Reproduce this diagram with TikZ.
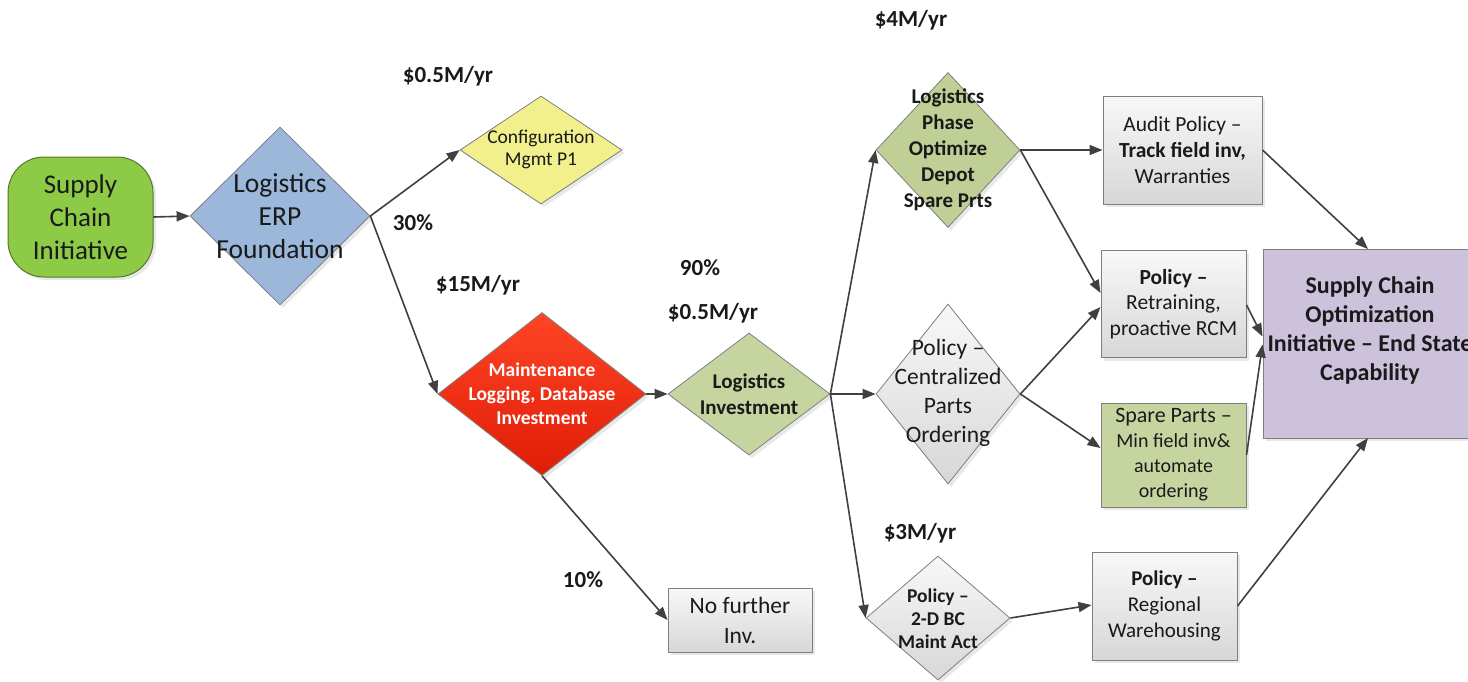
\documentclass[tikz,border=0pt]{standalone}
\usepackage{fontspec}
\setmainfont{Carlito}
\usetikzlibrary{arrows.meta,shadows,shapes.geometric}

\definecolor{linegray}{HTML}{404040}
\definecolor{edgegray}{HTML}{7F7F7F}
\definecolor{textc}{HTML}{1A1A1A}
\definecolor{sciGreen}{HTML}{8DCB47}
\definecolor{sciEdge}{HTML}{56772C}
\definecolor{erpBlue}{HTML}{9BB7DA}
\definecolor{cfgYellow}{HTML}{F1F08C}
\definecolor{redTop}{HTML}{FF4526}
\definecolor{redBot}{HTML}{E01C06}
\definecolor{olive}{HTML}{C6D5A0}
\definecolor{oliveDark}{HTML}{BFCF96}
\definecolor{grayTop}{HTML}{F8F8F8}
\definecolor{grayBot}{HTML}{D7D7D7}
\definecolor{endPurple}{HTML}{CCC2DC}

\newcommand\setfs[2]{\fontsize{#1}{#2}\selectfont}

\tikzset{
  x=1pt, y=-1pt,
  flowline/.style={draw=linegray, line width=1.6pt,
    -{Triangle[length=13pt,width=10pt]}},
  softshadow/.style={drop shadow={opacity=0.18, shadow xshift=3pt, shadow yshift=-3pt}},
  dia/.style={diamond, draw=edgegray, line width=0.8pt, inner sep=0pt,
    softshadow},
  box/.style={rectangle, draw=edgegray, line width=1pt, inner sep=0pt,
    align=center, text=textc, softshadow},
  graybox/.style={box, top color=grayTop, bottom color=grayBot},
  grayfill/.style={top color=grayTop, bottom color=grayBot},
  dtext/.style={align=center, text=textc, inner sep=0pt},
  lbl/.style={font=\bfseries\setfs{23}{28}, text=textc, inner sep=0pt},
}

\begin{document}
\begin{tikzpicture}
\clip (0,0) rectangle (1468,681);
\fill[white] (0,0) rectangle (1468,681);

% ---- start
\node[box, fill=sciGreen, draw=sciEdge, rounded corners=36pt,
      minimum width=145pt, minimum height=120pt,
      font=\setfs{27}{33}] (sci) at (80.5,217) {Supply\\Chain\\Initiative};

% ---- decision diamonds
\node[dia, fill=erpBlue, minimum width=180pt, minimum height=178pt] (erp) at (280,216) {};
\node[dtext, font=\setfs{27.5}{33}] (erp-t) at (280,216) {Logistics\\ERP\\Foundation};

\node[dia, fill=cfgYellow, minimum width=162pt, minimum height=108pt] (cfg) at (541,150) {};
\node[dtext, font=\setfs{19.5}{22}] (cfg-t) at (541,149) {Configuration\\Mgmt P1};

\node[dia, top color=redTop, bottom color=redBot, minimum width=208pt, minimum height=163pt] (mnt) at (542,394) {};
\node[dtext, text=white, font=\bfseries\setfs{19.5}{24}] (mnt-t) at (542,394) {Maintenance\\Logging, Database\\Investment};

\node[dia, fill=olive, minimum width=162pt, minimum height=122pt] (linv) at (749,394) {};
\node[dtext, font=\bfseries\setfs{21}{26}] (linv-t) at (749,394) {Logistics\\Investment};

\node[dia, fill=oliveDark, minimum width=144pt, minimum height=155pt] (phase) at (948,150) {};
\node[dtext, font=\bfseries\setfs{21}{26}] (phase-t) at (948,150) {Logistics\\Phase\\Optimize\\Depot\\Spare Prts};

\node[dia, grayfill, minimum width=144pt, minimum height=180pt] (cent) at (948,394) {};
\node[dtext, font=\setfs{23.5}{29}] (cent-t) at (948,393) {Policy –\\Centralized\\Parts\\Ordering};

\node[dia, grayfill, minimum width=144pt, minimum height=124pt] (bc) at (938,618) {};
\node[dtext, font=\bfseries\setfs{19.5}{23}] (bc-t) at (938,619) {Policy –\\2-D BC\\Maint Act};

% ---- outcome boxes
\node[graybox, minimum width=144pt, minimum height=64pt, font=\setfs{23.5}{30}] (nfi) at (740,620) {No further\\Inv.};

\node[graybox, minimum width=145pt, minimum height=108pt, font=\setfs{21}{26}] (reg) at (1164.5,606) {\textbf{Policy –}\\Regional\\Warehousing};

\node[graybox, minimum width=159pt, minimum height=108pt, font=\setfs{21.5}{26}] (aud) at (1182.5,150) {Audit Policy –\\\textbf{Track field inv,}\\Warranties};

\node[graybox, minimum width=145pt, minimum height=107pt, font=\setfs{21.5}{25.5}] (retr) at (1173.5,304) {\textbf{Policy –}\\Retraining,\\proactive RCM};

\node[box, fill=olive, minimum width=145pt, minimum height=104pt, font=\setfs{20}{25}] (spare) at (1173.5,455) {{\setfs{22}{25}Spare Parts –}\\Min field inv\&\\automate\\ordering};

% end-state box runs past the right edge of the page
\node[box, fill=endPurple, minimum width=220pt, minimum height=189pt] (end) at (1373,343.5) {};
\node[dtext, font=\bfseries\setfs{24}{29}] (end-t) at (1370,330) {Supply Chain\\Optimization\\Initiative – End State\\Capability};

% ---- cost and probability labels
\node[lbl] (c1) at (448,76) {\$0.5M/yr};
\node[lbl] (p1) at (413,223) {30\%};
\node[lbl] (c2) at (478,285) {\$15M/yr};
\node[lbl] (p2) at (700,268) {90\%};
\node[lbl] (c3) at (713,313) {\$0.5M/yr};
\node[lbl] (c4) at (911,20) {\$4M/yr};
\node[lbl] (c5) at (920,533) {\$3M/yr};
\node[lbl] (p3) at (583,580) {10\%};

% ---- connectors
\coordinate (endtop) at (1368,249);
\coordinate (endbot) at (1368,438);
\draw[flowline] (sci.east) -- (erp.west);
\draw[flowline] (erp.east) -- (cfg.west);
\draw[flowline] (erp.east) -- (mnt.west);
\draw[flowline] (mnt.east) -- (linv.west);
\draw[flowline] (mnt.south) -- (nfi.west);
\draw[flowline] (linv.east) -- (phase.west);
\draw[flowline] (linv.east) -- (cent.west);
\draw[flowline] (linv.east) -- (bc.west);
\draw[flowline] (bc.east) -- ([yshift=1pt]reg.west);
\draw[flowline] (phase.east) -- (aud.west);
\draw[flowline] (phase.east) -- ([yshift=11pt]retr.west);
\draw[flowline] (cent.east) -- ([yshift=-3pt]retr.west);
\draw[flowline] (cent.east) -- ([yshift=7pt]spare.west);
\draw[flowline] (aud.east) -- (endtop);
\draw[flowline] ([yshift=-1pt]retr.east) -- ([yshift=7pt]end.west);
\draw[flowline] (spare.east) -- ([yshift=-1pt]end.west);
\draw[flowline] (reg.east) -- (endbot);
\end{tikzpicture}
\end{document}
